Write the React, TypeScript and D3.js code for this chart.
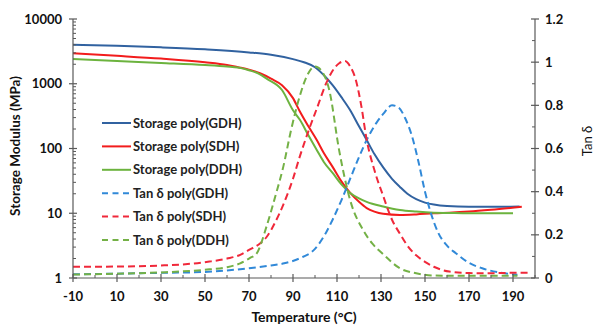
import React from "react";
import * as d3 from "d3";

// Temperature (°C) and values
const storageGDH_T = [-10, 10, 30, 50, 70, 80, 90, 95, 100, 105, 108, 112, 116, 120, 123.5, 127, 131, 135, 138.6, 142, 146, 150, 154, 160, 170, 180, 193];
const storageGDH_V = [4000, 3850, 3650, 3400, 3050, 2800, 2400, 2150, 1800, 1250, 950, 620, 390, 220, 135, 82, 51, 34, 25.5, 20, 16.5, 14.6, 13.6, 12.9, 12.6, 12.6, 12.7];

const storageSDH_T = [-10, 10, 30, 50, 60, 65, 70, 75, 80, 85, 90, 93, 97, 100.8, 104, 108, 112, 116, 120, 123.5, 127, 131, 138.6, 146, 154, 161, 170, 180, 194];
const storageSDH_V = [2950, 2700, 2450, 2150, 1950, 1800, 1650, 1450, 1200, 950, 600, 380, 220, 135, 85, 52, 31, 20.6, 15, 12, 10.6, 9.8, 9.4, 9.6, 10, 10.2, 10.6, 11.3, 12.6];

const storageDDH_T = [-10, 10, 30, 50, 60, 65, 70, 75, 78, 85, 90, 93.2, 97, 100.8, 104, 108, 112, 116, 120, 123.5, 131, 138.6, 146, 154, 161, 170, 190];
const storageDDH_V = [2420, 2250, 2100, 1950, 1850, 1780, 1620, 1400, 1200, 800, 390, 275, 160, 95, 62, 42, 28, 20.6, 17, 15, 12.7, 11.2, 10.6, 10.2, 10.1, 10, 10];

const tanGDH_T = [-10, 10, 30, 50, 60, 70, 80, 86, 93, 100, 105, 108, 112, 116, 120, 124, 128, 131, 135, 138, 141, 144, 147, 150, 153, 156, 160, 164, 170, 176, 184, 192];
const tanGDH_V = [0.017, 0.02, 0.024, 0.028, 0.035, 0.045, 0.058, 0.068, 0.091, 0.135, 0.21, 0.27, 0.36, 0.46, 0.56, 0.65, 0.72, 0.76, 0.8, 0.79, 0.74, 0.66, 0.54, 0.4, 0.29, 0.21, 0.15, 0.115, 0.07, 0.045, 0.025, 0.015];

const tanSDH_T = [-10, 10, 30, 40, 52, 60, 66, 70, 75, 78, 82, 86, 90, 93, 97, 101, 105, 108, 111, 113.6, 116, 118.5, 121, 123.5, 127, 131, 135, 138.6, 142, 146, 150, 154, 161, 170, 177, 190, 198];
const tanSDH_V = [0.052, 0.053, 0.058, 0.063, 0.076, 0.09, 0.107, 0.13, 0.16, 0.19, 0.26, 0.35, 0.46, 0.56, 0.68, 0.79, 0.9, 0.96, 0.995, 1.005, 0.98, 0.92, 0.8, 0.64, 0.5, 0.38, 0.27, 0.205, 0.15, 0.105, 0.075, 0.052, 0.03, 0.023, 0.022, 0.024, 0.025];

const tanDDH_T = [-10, 10, 30, 52, 60, 66, 70.5, 73.5, 78, 82, 85.6, 89, 93, 96.5, 100, 103, 106.5, 111, 116, 122, 126, 131, 138.6, 146, 153, 160, 192];
const tanDDH_V = [0.016, 0.02, 0.026, 0.04, 0.05, 0.068, 0.093, 0.114, 0.24, 0.38, 0.516, 0.68, 0.84, 0.94, 0.98, 0.96, 0.87, 0.59, 0.36, 0.22, 0.16, 0.11, 0.045, 0.022, 0.012, 0.01, 0.01];

const xTicks = [-10, 10, 30, 50, 70, 90, 110, 130, 150, 170, 190];
const xMinorTicks = [0, 20, 40, 60, 80, 100, 120, 140, 160, 180, 200];
const leftTicks = [1, 10, 100, 1000, 10000];
const rightTicks = [0, 0.2, 0.4, 0.6, 0.8, 1, 1.2];
const rightMinor = [0.1, 0.3, 0.5, 0.7, 0.9, 1.1];

const legendLabels = [
  "Storage poly(GDH)",
  "Storage poly(SDH)",
  "Storage poly(DDH)",
  "Tan δ poly(GDH)",
  "Tan δ poly(SDH)",
  "Tan δ poly(DDH)",
];

const C_SG = "#3162a0";
const C_SS = "#f21c1c";
const C_SD = "#6cb33e";
const C_TG = "#3189d8";
const C_TS = "#f0283a";
const C_TD = "#74b146";

const FONT = "Lato, 'Noto Sans', 'DejaVu Sans', sans-serif";

export default function App() {
  const W = 595, H = 329;
  const x = d3.scaleLinear().domain([-10, 200]).range([73, 535]);
  const yL = d3.scaleLog().domain([1, 10000]).range([278, 19]);
  const yR = d3.scaleLinear().domain([0, 1.2]).range([278, 19]);

  const mk = (T: number[], V: number[]) => T.map((t, i) => [t, V[i]] as [number, number]);
  const lineL = d3.line<[number, number]>().x(d => x(d[0])).y(d => yL(d[1])).curve(d3.curveMonotoneX);
  const lineR = d3.line<[number, number]>().x(d => x(d[0])).y(d => yR(d[1])).curve(d3.curveMonotoneX);

  const leftMinor: number[] = [];
  for (let e = 0; e < 4; e++) for (let k = 2; k <= 9; k++) leftMinor.push(k * Math.pow(10, e));

  const axisColor = "#595959";
  const dash = "7,4";

  const series = [
    { d: lineL(mk(storageGDH_T, storageGDH_V)), c: C_SG, dash: undefined },
    { d: lineL(mk(storageSDH_T, storageSDH_V)), c: C_SS, dash: undefined },
    { d: lineL(mk(storageDDH_T, storageDDH_V)), c: C_SD, dash: undefined },
    { d: lineR(mk(tanGDH_T, tanGDH_V)), c: C_TG, dash },
    { d: lineR(mk(tanSDH_T, tanSDH_V)), c: C_TS, dash },
    { d: lineR(mk(tanDDH_T, tanDDH_V)), c: C_TD, dash },
  ];
  const legendColors = [C_SG, C_SS, C_SD, C_TG, C_TS, C_TD];

  return (
    <svg width={W} height={H} style={{ position: "absolute", left: 0, top: 0, background: "#fff" }} fontFamily={FONT}>
      {/* series */}
      {series.map((s, i) => (
        <path key={i} d={s.d || ""} fill="none" stroke={s.c} strokeWidth={2} strokeDasharray={s.dash} />
      ))}

      {/* left axis */}
      <line x1={73} x2={73} y1={yL(10000)} y2={yL(1)} stroke={axisColor} strokeWidth={1.2} />
      {leftTicks.map(t => (
        <g key={t}>
          <line x1={69} x2={77} y1={yL(t)} y2={yL(t)} stroke={axisColor} strokeWidth={1.2} />
          <text x={62} y={yL(t)} dy="0.35em" textAnchor="end" fontSize={13} fontWeight="bold" fill="#111">{t}</text>
        </g>
      ))}
      {leftMinor.map(t => (
        <line key={t} x1={73} x2={76} y1={yL(t)} y2={yL(t)} stroke={axisColor} strokeWidth={1} />
      ))}

      {/* right axis */}
      <line x1={535} x2={535} y1={yR(1.2)} y2={yR(0)} stroke={axisColor} strokeWidth={1.2} />
      {rightTicks.map(t => (
        <g key={t}>
          <line x1={531} x2={539} y1={yR(t)} y2={yR(t)} stroke={axisColor} strokeWidth={1.2} />
          <text x={545} y={yR(t)} dy="0.35em" textAnchor="start" fontSize={13} fontWeight="bold" fill="#111">{t}</text>
        </g>
      ))}
      {rightMinor.map(t => (
        <line key={t} x1={532} x2={535} y1={yR(t)} y2={yR(t)} stroke={axisColor} strokeWidth={1} />
      ))}

      {/* x axis */}
      <line x1={73} x2={535} y1={278} y2={278} stroke={axisColor} strokeWidth={1.2} />
      {xTicks.map(t => (
        <g key={t}>
          <line x1={x(t)} x2={x(t)} y1={274} y2={282} stroke={axisColor} strokeWidth={1.2} />
          <text x={x(t)} y={300.5} textAnchor="middle" fontSize={13} fontWeight="bold" fill="#111">{t}</text>
        </g>
      ))}
      {xMinorTicks.map(t => (
        <line key={t} x1={x(t)} x2={x(t)} y1={275} y2={278} stroke={axisColor} strokeWidth={1} />
      ))}

      {/* axis titles */}
      <text x={304} y={322} textAnchor="middle" fontSize={14} fontWeight="bold" fill="#111">Temperature (°C)</text>
      <text transform={`translate(20,146) rotate(-90)`} textAnchor="middle" fontSize={13.5} fontWeight="bold" fill="#111">Storage Modulus (MPa)</text>
      <text transform={`translate(592,141) rotate(-90)`} textAnchor="middle" fontSize={13} fill="#111">Tan δ</text>

      {/* legend */}
      {legendLabels.map((l, i) => {
        const yy = 123 + i * 23.4;
        return (
          <g key={l}>
            <line x1={102} x2={131} y1={yy} y2={yy} stroke={legendColors[i]} strokeWidth={2} strokeDasharray={i >= 3 ? "6,4.5" : undefined} />
            <text x={133} y={yy} dy="0.36em" fontSize={13} fontWeight="bold" fill="#222">{l}</text>
          </g>
        );
      })}
    </svg>
  );
}
